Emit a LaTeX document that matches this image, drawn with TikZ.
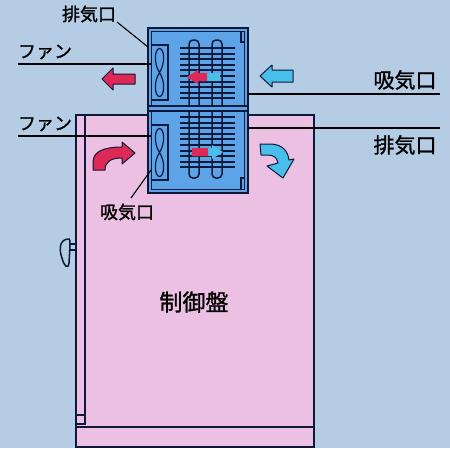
\documentclass[tikz,border=0pt]{standalone}
\usepackage{fontspec}
\newfontfamily\jp[FakeBold=1.2]{Noto Sans CJK JP}
\definecolor{bgblue}{RGB}{181,205,228}
\definecolor{panelpink}{RGB}{235,192,226}
\definecolor{unitblue}{RGB}{92,163,232}
\definecolor{ink}{RGB}{14,24,56}
\definecolor{hotred}{RGB}{222,40,86}
\definecolor{coolcyan}{RGB}{72,190,234}
\tikzset{
  outline/.style={draw=ink, line width=1.6pt},
  leader/.style={draw=black, line width=1.1pt},
  fin/.style={draw=ink, line width=1.9pt},
  blockarrow/.style={draw=ink, line width=1pt, line join=round},
  lblS/.style={inner sep=0pt, font=\jp\fontsize{18}{18}\selectfont},
  lblL/.style={inner sep=0pt, font=\jp\fontsize{21}{21}\selectfont},
}
\begin{document}
\begin{tikzpicture}[x=1pt,y=-1pt]
% background
\fill[bgblue] (0,0) rectangle (450,448);
\useasboundingbox (0,0) rectangle (450,448);

% ---- control panel cabinet ----
\fill[panelpink] (76,115) rectangle (314,448);
\draw[outline] (76,448) -- (76,115) -- (314,115) -- (314,448);
\draw[outline] (85,115) -- (85,415);
\draw[outline] (76,415) rectangle (85,424);
\draw[outline] (76,427) -- (314,427);
\draw[outline] (76,447) -- (314,447);
% door handle
\draw[outline, line width=1.2pt] (76,244) -- (70,244) (76,250) -- (70,250);
\draw[outline, line width=1.5pt] (69,239) .. controls (59,239) and (59,250) .. (62,258)
  .. controls (64,266) and (68,270) .. (69,263) -- (70,246) .. controls (70,241) and (70,239) .. (69,239) -- cycle;

% ---- heat exchanger unit ----
\fill[unitblue] (148,28) rectangle (248,193);
\draw[outline, line width=1.8pt] (148,28) rectangle (248,193);
\draw[outline, line width=1.2pt] (151.5,31.5) rectangle (244.5,106);
\draw[outline, line width=1.2pt] (151.5,111) rectangle (244.5,189.5);
% latch marks
\draw[outline, line width=1.2pt] (241,31.5) -- (241,42) -- (244.5,42);
\draw[outline, line width=1.2pt] (241,189.5) -- (241,178) -- (244.5,178);

% heat pipes (two U loops through both chambers)
\foreach \xa/\xb in {189/199, 212/222}{
  \draw[fin, line width=1.5pt, rounded corners=4pt] (\xa,40) rectangle (\xb,178);
}
% fins
\foreach \yy in {48,53.6,...,100}{ \draw[fin] (180,\yy) -- (235,\yy); }
\foreach \yy in {117,122.6,...,172}{ \draw[fin] (180,\yy) -- (235,\yy); }
% divider band between the two chambers
\fill[unitblue] (149,106.7) rectangle (247,110.3);
\draw[outline, line width=1.2pt] (148,106) -- (248,106) (148,111) -- (248,111);

% fans
\draw[outline, line width=1.3pt] (151.5,45) rectangle (168,100);
\draw[outline, line width=1.3pt] (151.5,125) rectangle (168,180);
\foreach \cy/\h in {72.5/24, 152.5/24}{
  \draw[ink, line width=1.2pt] (159.5,\cy)
    .. controls (153,\cy-10) and (155,\cy-\h) .. (159.5,\cy-\h)
    .. controls (164,\cy-\h) and (166,\cy-10) .. (159.5,\cy)
    .. controls (153,\cy+10) and (155,\cy+\h) .. (159.5,\cy+\h)
    .. controls (164,\cy+\h) and (166,\cy+10) .. (159.5,\cy);
}

% air flow inside the unit (hot -> cool)
\begin{scope}
  \fill[coolcyan] (187,77) -- (198,70) -- (198,73) -- (220,73) -- (220,81) -- (198,81) -- (198,84) -- cycle;
  \clip (180,60) rectangle (207,95);
  \fill[hotred] (187,77) -- (198,70) -- (198,73) -- (220,73) -- (220,81) -- (198,81) -- (198,84) -- cycle;
\end{scope}
\begin{scope}
  \fill[coolcyan] (223,152) -- (212,145) -- (212,148) -- (192,148) -- (192,156) -- (212,156) -- (212,159) -- cycle;
  \clip (185,140) rectangle (208,165);
  \fill[hotred] (223,152) -- (212,145) -- (212,148) -- (192,148) -- (192,156) -- (212,156) -- (212,159) -- cycle;
\end{scope}

% outside air flow arrows
\filldraw[blockarrow, fill=hotred] (102,79) -- (113,68) -- (113,74) -- (135,74) -- (135,84) -- (113,84) -- (113,90) -- cycle;
\filldraw[blockarrow, fill=coolcyan] (260,76) -- (272,65) -- (272,70) -- (293,70) -- (293,82) -- (272,82) -- (272,87) -- cycle;
\filldraw[blockarrow, fill=hotred] (93,170) -- (93,162) .. controls (93,151) and (105,147) .. (122,147)
  -- (122,142) -- (135,153) -- (122,164) -- (122,158) .. controls (112,158) and (105,161) .. (105,170) -- cycle;
\filldraw[blockarrow, fill=coolcyan] (260,144) -- (270,144) .. controls (282,144) and (288,151) .. (289,160)
  -- (294,159) -- (283,178) -- (267,166) -- (278,163) .. controls (277,158) and (274,155) .. (268,155) -- (261,155) -- cycle;

% ---- labels and leader lines ----
\node[lblS] (exhTop) at (89,14) {排気口};
\node[lblS] (fanTop) at (45,52) {ファン};
\node[lblS] (fanBot) at (45,124) {ファン};
\node[lblS] (intBot) at (127,212) {吸気口};
\node[lblL] (intRight) at (405,80) {吸気口};
\node[lblL] (exhRight) at (405,145) {排気口};
\node[inner sep=0pt, font=\jp\fontsize{23}{23}\selectfont] (panel) at (194,302) {制御盤};

\coordinate (exhTopA) at (117,22);
\coordinate (exhTopB) at (148,47);
\coordinate (fanTopA) at (18,64);
\coordinate (fanTopB) at (151,64);
\coordinate (fanBotA) at (18,136);
\coordinate (fanBotB) at (151,136);
\coordinate (intBotA) at (131,198);
\coordinate (intBotB) at (151,170);
\coordinate (intRightA) at (248,94);
\coordinate (intRightB) at (440,94);
\coordinate (exhRightA) at (248,128);
\coordinate (exhRightB) at (440,128);

\draw[leader] (exhTopA) -- (exhTopB);
\draw[leader] (fanTopA) -- (fanTopB);
\draw[leader] (fanBotA) -- (fanBotB);
\draw[leader] (intBotA) -- (intBotB);
\draw[leader] (intRightA) -- (intRightB);
\draw[leader] (exhRightA) -- (exhRightB);
\end{tikzpicture}
\end{document}
